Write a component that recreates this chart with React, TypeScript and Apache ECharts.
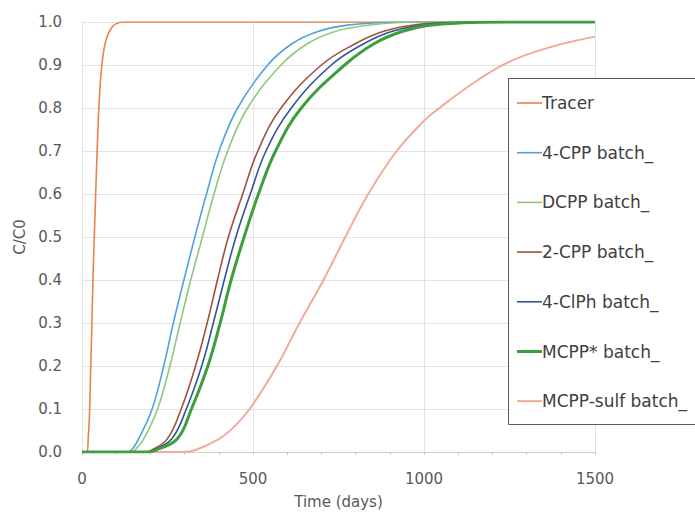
import React, { useEffect, useRef } from "react";
import * as echarts from "echarts";

const seriesNames = [
  "Tracer",
  "4-CPP batch_",
  "DCPP batch_",
  "2-CPP batch_",
  "4-ClPh batch_",
  "MCPP* batch_",
  "MCPP-sulf batch_",
];

const seriesColors = ["#E8834E", "#4EA3D8", "#8CC97A", "#A0523D", "#2F5597", "#3C9E3C", "#F2A99A"];
const seriesWidths = [1.6, 1.6, 1.6, 1.6, 1.6, 3, 2];

const tracer: number[][] = [
  [0, 0], [14, 0], [18, 0.03], [21.5, 0.08], [25, 0.18], [29, 0.3], [33, 0.43], [38, 0.55],
  [46, 0.74], [52, 0.84], [58, 0.9], [65, 0.94], [73, 0.965], [85, 0.985], [97, 0.995], [121, 1], [1500, 1],
];
const cpp4: number[][] = [
  [0, 0], [130, 0], [141, 0.002], [165, 0.03], [205, 0.1], [239, 0.2], [267, 0.3], [298, 0.4], [330, 0.5],
  [364, 0.6], [401, 0.7], [455, 0.8], [543, 0.9], [615, 0.95], [690, 0.978], [780, 0.993], [880, 0.999], [980, 1], [1500, 1],
];
const dcpp: number[][] = [
  [0, 0], [145, 0], [152, 0.002], [180, 0.03], [221, 0.1], [257, 0.2], [287, 0.3], [318, 0.4], [352, 0.5],
  [386, 0.6], [426, 0.7], [484, 0.8], [582, 0.9], [660, 0.95], [740, 0.978], [830, 0.992], [930, 0.999], [1030, 1], [1500, 1],
];
const cpp2: number[][] = [
  [0, 0], [185, 0], [200, 0.003], [249, 0.03], [290, 0.1], [332, 0.2], [366, 0.3], [396, 0.4], [428, 0.5],
  [470, 0.6], [514, 0.7], [582, 0.8], [700, 0.9], [800, 0.95], [880, 0.978], [980, 0.994], [1080, 0.999], [1200, 1], [1500, 1],
];
const clph4: number[][] = [
  [0, 0], [190, 0], [205, 0.003], [262, 0.03], [305, 0.1], [350, 0.2], [384, 0.3], [416, 0.4], [450, 0.5],
  [492, 0.6], [538, 0.7], [612, 0.8], [729, 0.9], [825, 0.95], [905, 0.978], [1000, 0.993], [1100, 0.999], [1250, 1], [1500, 1],
];
const mcpp: number[][] = [
  [0, 0], [195, 0], [212, 0.003], [278, 0.03], [320, 0.1], [368, 0.2], [404, 0.3], [436, 0.4], [474, 0.5],
  [516, 0.6], [566, 0.7], [641, 0.8], [768, 0.9], [855, 0.95], [935, 0.978], [1010, 0.992], [1110, 0.998], [1300, 1], [1500, 1],
];
const mcppSulf: number[][] = [
  [0, 0], [295, 0], [330, 0.004], [400, 0.03], [440, 0.055], [490, 0.1], [570, 0.2], [636, 0.3], [706, 0.4],
  [770, 0.5], [837, 0.6], [920, 0.7], [1000, 0.77], [1045, 0.8], [1150, 0.861], [1250, 0.908], [1376, 0.943], [1500, 0.966],
];

const allData = [tracer, cpp4, dcpp, cpp2, clph4, mcpp, mcppSulf];

const xTicks = [0, 500, 1000, 1500];

export default function App() {
  const ref = useRef<HTMLDivElement>(null);
  useEffect(() => {
    if (!ref.current) return;
    const chart = echarts.init(ref.current, null, { renderer: "svg" });
    const font = "DejaVu Sans";
    chart.setOption({
      animation: false,
      backgroundColor: "#ffffff",
      grid: { left: 82, right: 100, top: 22, bottom: 65, containLabel: false },
      xAxis: {
        type: "value",
        min: xTicks[0],
        max: xTicks[xTicks.length - 1],
        interval: 500,
        name: "Time (days)",
        nameLocation: "middle",
        nameGap: 42,
        nameTextStyle: { color: "#595959", fontSize: 15, fontFamily: font },
        axisLine: { show: true, lineStyle: { color: "#D0D0D0", width: 1 } },
        axisTick: { show: true, length: 3, lineStyle: { color: "#C8C8C8" } },
        minorTick: { show: true, splitNumber: 5, length: 3, lineStyle: { color: "#C8C8C8" } },
        axisLabel: {
          color: "#595959",
          fontSize: 15,
          fontFamily: font,
          margin: 19,
          formatter: (v: number) => String(v),
        },
        splitLine: { show: true, lineStyle: { color: "#E3E3E3", width: 1 } },
      },
      yAxis: {
        type: "value",
        min: 0,
        max: 1,
        interval: 0.1,
        name: "C/C0",
        nameLocation: "middle",
        nameGap: 55,
        nameTextStyle: { color: "#595959", fontSize: 15, fontFamily: font },
        axisLine: { show: false },
        axisTick: { show: false },
        axisLabel: {
          color: "#595959",
          fontSize: 15,
          fontFamily: font,
          margin: 20,
          formatter: (v: number) => v.toFixed(1),
        },
        splitLine: { show: true, lineStyle: { color: "#E3E3E3", width: 1 } },
      },
      graphic: [
        {
          type: "rect",
          z: 50,
          shape: { x: 508.5, y: 78.5, width: 200, height: 346 },
          style: { fill: "#ffffff", stroke: "#5A5A5A", lineWidth: 1 },
        },
      ],
      legend: {
        z: 100,
        orient: "vertical",
        left: 517,
        top: 93,
        padding: 0,
        itemWidth: 25,
        itemHeight: 20,
        itemGap: 29.7,
        data: seriesNames.map((n, i) => ({
          name: n,
          itemStyle: { color: seriesColors[i] },
          icon: `path://M0,${10 - seriesWidths[i] / 2}L25,${10 - seriesWidths[i] / 2}L25,${10 + seriesWidths[i] / 2}L0,${10 + seriesWidths[i] / 2}Z`,
        })),
        textStyle: { color: "#404040", fontSize: 17, fontFamily: font, padding: [0, 0, 0, -5], lineHeight: 20 },
      },
      series: seriesNames.map((n, i) => ({
        name: n,
        type: "line",
        data: allData[i],
        smooth: 0.4,
        showSymbol: false,
        symbol: "none",
        lineStyle: { color: seriesColors[i], width: seriesWidths[i] },
        itemStyle: { color: seriesColors[i] },
        z: i === 5 ? 3 : 2,
      })),
    });
    return () => chart.dispose();
  }, []);
  return <div ref={ref} style={{ width: 695, height: 517, position: "absolute", left: 0, top: 0 }} />;
}
